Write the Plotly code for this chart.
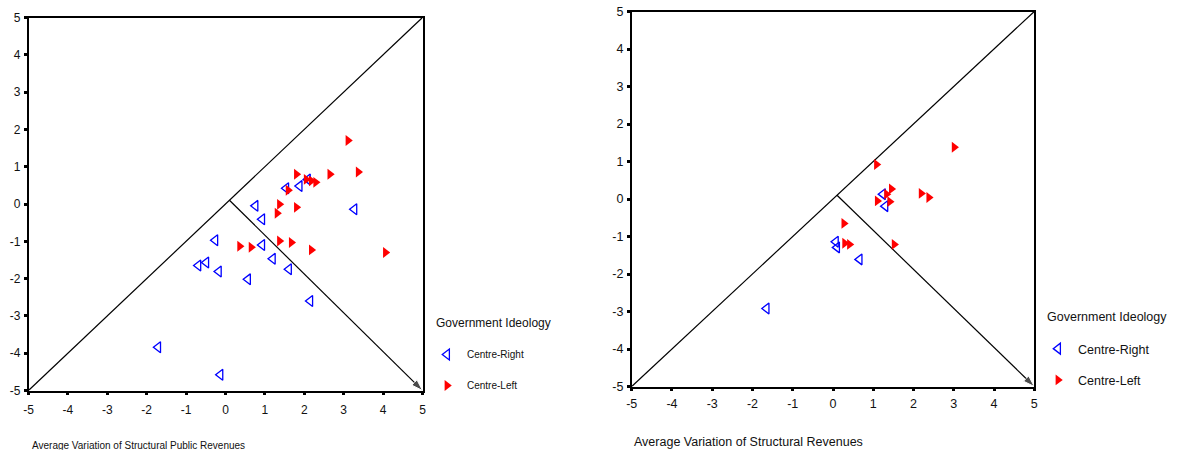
import plotly.graph_objects as go

# ---------------- data ----------------
tick_vals = [-5, -4, -3, -2, -1, 0, 1, 2, 3, 4, 5]
tick_text = ["-5", "-4", "-3", "-2", "-1", "0", "1", "2", "3", "4", "5"]

# Left panel: Structural Public Revenues
left_cr_x = [3.27, 2.09, 1.88, 1.54, 0.76, 0.93, -0.26, 0.93, 1.20, 1.61, -0.49, -0.69, -0.17, 0.57, 2.15, -1.71, -0.13]
left_cr_y = [-0.14, 0.66, 0.48, 0.42, -0.05, -0.41, -0.97, -1.10, -1.47, -1.75, -1.57, -1.65, -1.81, -2.02, -2.60, -3.84, -4.58]
left_cl_x = [3.11, 1.80, 2.65, 3.37, 2.05, 2.18, 2.29, 1.59, 1.37, 1.80, 1.31, 0.36, 0.65, 1.37, 1.67, 2.18, 4.06]
left_cl_y = [1.70, 0.80, 0.80, 0.86, 0.66, 0.62, 0.58, 0.37, -0.01, -0.09, -0.25, -1.13, -1.16, -0.99, -1.03, -1.23, -1.30]

# Right panel: Structural Revenues
right_cr_x = [1.24, 1.30, 0.07, 0.10, 0.66, -1.65]
right_cr_y = [0.13, -0.19, -1.14, -1.29, -1.61, -2.92]
right_cl_x = [3.01, 1.08, 1.45, 1.33, 2.19, 2.38, 1.10, 1.41, 0.27, 0.29, 0.41, 1.52]
right_cl_y = [1.38, 0.92, 0.27, 0.13, 0.15, 0.04, -0.05, -0.07, -0.65, -1.18, -1.21, -1.21]

# Reference lines (diagonal and perpendicular split)
diag_x = [-5, 5]
diag_y = [-5, 5]
split_x = [0.1, 5]
split_y = [0.1, -5]

legend_title = "Government Ideology"
label_cr = "Centre-Right"
label_cl = "Centre-Left"
left_xtitle = "Average Variation of Structural Public Revenues"
right_xtitle = "Average Variation of Structural Revenues"

FONT = "Liberation Sans, Arial, sans-serif"
BLUE = "#0000FF"
RED = "#FF0000"
W, H = 1194, 450

fig = go.Figure()

def add_lines(xa, ya):
    fig.add_trace(go.Scatter(x=diag_x, y=diag_y, mode="lines", xaxis=xa, yaxis=ya,
                             line=dict(color="black", width=1.2), showlegend=False, hoverinfo="skip"))
    fig.add_trace(go.Scatter(x=split_x, y=split_y, mode="lines+markers", xaxis=xa, yaxis=ya,
                             line=dict(color="black", width=1.2),
                             marker=dict(symbol=["circle", "arrow"], size=[0, 12], color="black",
                                         angleref="previous"),
                             showlegend=False, hoverinfo="skip", cliponaxis=False))

add_lines("x", "y")
add_lines("x2", "y2")

fig.add_trace(go.Scatter(x=left_cr_x, y=left_cr_y, mode="markers", xaxis="x", yaxis="y",
                         name=label_cr, legend="legend", legendgroup="l1",
                         marker=dict(symbol="triangle-left-open", size=9.5, color=BLUE, line=dict(width=1.3, color=BLUE))))
fig.add_trace(go.Scatter(x=left_cl_x, y=left_cl_y, mode="markers", xaxis="x", yaxis="y",
                         name=label_cl, legend="legend", legendgroup="l2",
                         marker=dict(symbol="triangle-right", size=9.5, color=RED, line=dict(width=0))))
fig.add_trace(go.Scatter(x=right_cr_x, y=right_cr_y, mode="markers", xaxis="x2", yaxis="y2",
                         name=label_cr, legend="legend2", legendgroup="r1",
                         marker=dict(symbol="triangle-left-open", size=9.5, color=BLUE, line=dict(width=1.3, color=BLUE))))
fig.add_trace(go.Scatter(x=right_cl_x, y=right_cl_y, mode="markers", xaxis="x2", yaxis="y2",
                         name=label_cl, legend="legend2", legendgroup="r2",
                         marker=dict(symbol="triangle-right", size=9.5, color=RED, line=dict(width=0))))

def axis(domain, fs, standoff):
    return dict(domain=domain, range=[-5, 5], tickvals=tick_vals, ticktext=tick_text,
                showgrid=False, zeroline=False, automargin=False,
                showline=True, mirror=True, linecolor="black", linewidth=1.5,
                ticks="outside", ticklen=3, tickwidth=3, tickcolor="black",
                ticklabelstandoff=standoff,
                tickfont=dict(family=FONT, size=fs, color="#111"))

fig.update_layout(
    width=W, height=H,
    margin=dict(l=0, r=0, t=0, b=0),
    paper_bgcolor="white", plot_bgcolor="white",
    xaxis=dict(axis([28.5 / W, 422.5 / W], 12, 4), anchor="y"),
    yaxis=dict(axis([(H - 390.5) / H, (H - 17.5) / H], 12, 1), anchor="x"),
    xaxis2=dict(axis([631.7 / W, 1034.3 / W], 12.5, 2), anchor="y2"),
    yaxis2=dict(axis([(H - 386.5) / H, (H - 11.5) / H], 12.5, 1), anchor="x2"),
    legend=dict(x=427 / W, y=(H - 340) / H, xanchor="left", yanchor="top",
                font=dict(family=FONT, size=10, color="#111"), tracegroupgap=12,
                bgcolor="rgba(0,0,0,0)"),
    legend2=dict(x=1038 / W, y=(H - 334) / H, xanchor="left", yanchor="top",
                 font=dict(family=FONT, size=12.5, color="#111"), tracegroupgap=12,
                 bgcolor="rgba(0,0,0,0)"),
    annotations=[
        dict(text=legend_title, xref="paper", yref="paper", x=434 / W, y=(H - 323) / H,
             xanchor="left", yanchor="middle", showarrow=False,
             font=dict(family=FONT, size=12, color="#111")),
        dict(text=legend_title, xref="paper", yref="paper", x=1045 / W, y=(H - 317) / H,
             xanchor="left", yanchor="middle", showarrow=False,
             font=dict(family=FONT, size=12.5, color="#111")),
        dict(text=left_xtitle, xref="paper", yref="paper", x=30 / W, y=5 / H,
             xanchor="left", yanchor="middle", showarrow=False,
             font=dict(family=FONT, size=10, color="#111")),
        dict(text=right_xtitle, xref="paper", yref="paper", x=632 / W, y=8.5 / H,
             xanchor="left", yanchor="middle", showarrow=False,
             font=dict(family=FONT, size=12.5, color="#111")),
    ],
)

fig.write_html("out.html", config={"displayModeBar": False},
               post_script="document.body.style.margin='0';document.body.style.overflow='hidden';")
